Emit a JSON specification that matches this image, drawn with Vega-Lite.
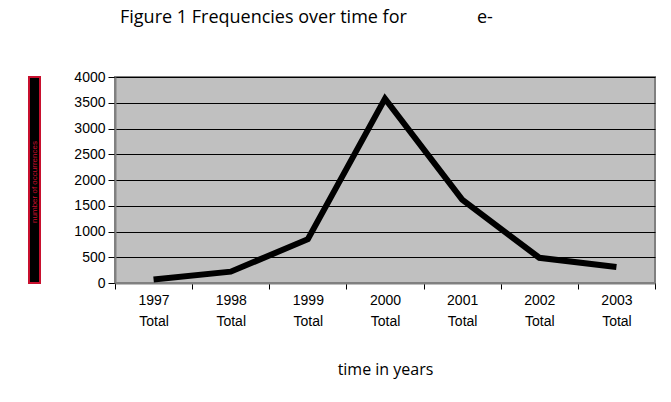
{
  "$schema": "https://vega.github.io/schema/vega-lite/v6.json",
  "background": "white",
  "padding": {"left": 28, "top": 9, "right": 5, "bottom": 5},
  "title": {
    "text": "Figure 1 Frequencies over time for\u00a0\u00a0\u00a0\u00a0\u00a0\u00a0\u00a0\u00a0\u00a0\u00a0\u00a0\u00a0\u00a0\u00a0\u00a0e-",
    "anchor": "start",
    "dx": 92,
    "font": "Open Sans",
    "fontSize": 18,
    "fontWeight": "normal",
    "color": "#000000",
    "offset": 42
  },
  "spacing": 31,
  "hconcat": [
    {
      "width": 11,
      "height": 206,
      "data": {"values": [{"t": "number of occurrences"}]},
      "view": {"fill": "#000000", "stroke": "#c8102e", "strokeWidth": 2},
      "mark": {"type": "text", "angle": 270, "color": "#c8102e", "font": "Liberation Sans", "fontSize": 8, "dx": -2},
      "encoding": {"text": {"field": "t"}}
    },
    {
      "width": 540,
      "height": 206,
      "data": {
        "values": [
          {"year": "1997 Total", "count": 70},
          {"year": "1998 Total", "count": 220},
          {"year": "1999 Total", "count": 850},
          {"year": "2000 Total", "count": 3580},
          {"year": "2001 Total", "count": 1620},
          {"year": "2002 Total", "count": 490},
          {"year": "2003 Total", "count": 310}
        ]
      },
      "view": {"fill": "#c0c0c0", "stroke": "#808080", "strokeWidth": 2},
      "mark": {"type": "line", "color": "#000000", "strokeWidth": 6, "strokeJoin": "miter", "strokeCap": "butt"},
      "encoding": {
        "x": {
          "field": "year",
          "type": "ordinal",
          "sort": null,
          "bandPosition": 0.5,
          "scale": {"type": "band", "paddingInner": 0, "paddingOuter": 0},
          "axis": {
            "title": "time in years",
            "titleFont": "Open Sans",
            "titleFontSize": 16,
            "titleFontWeight": "normal",
            "titleColor": "#000000",
            "titlePadding": 33,
            "labelExpr": "split(datum.label, ' ')",
            "labelAngle": 0,
            "labelFont": "Liberation Sans",
            "labelFontSize": 14,
            "labelLineHeight": 21,
            "labelColor": "#000000",
            "labelPadding": 4,
            "tickBand": "extent",
            "tickSize": 6,
            "tickColor": "#000000",
            "domainColor": "#808080",
            "domainWidth": 2,
            "grid": false
          }
        },
        "y": {
          "field": "count",
          "type": "quantitative",
          "scale": {"domain": [0, 4000], "nice": false},
          "axis": {
            "title": null,
            "format": "d",
            "values": [0, 500, 1000, 1500, 2000, 2500, 3000, 3500, 4000],
            "labelFont": "Liberation Sans",
            "labelFontSize": 14,
            "labelColor": "#000000",
            "labelPadding": 3,
            "tickSize": 7,
            "tickColor": "#000000",
            "domainColor": "#808080",
            "domainWidth": 2,
            "grid": true,
            "gridColor": "#000000",
            "gridWidth": 1,
            "gridOpacity": 1
          }
        }
      }
    }
  ]
}
